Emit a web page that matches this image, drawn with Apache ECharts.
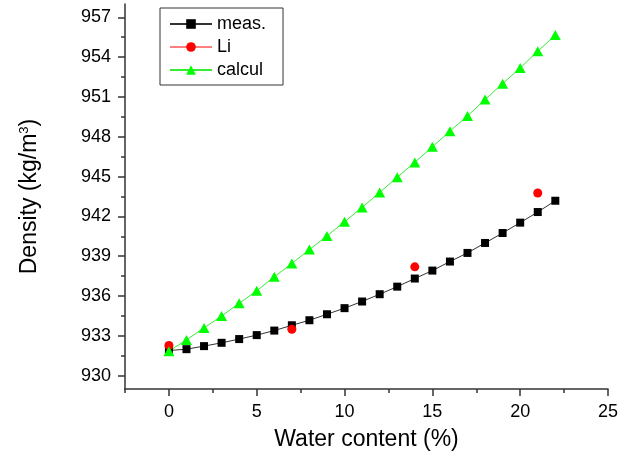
<!DOCTYPE html>
<html>
<head>
<meta charset="utf-8">
<script src="https://cdn.jsdelivr.net/npm/echarts@6/dist/echarts.min.js"></script>
<style>
  html, body { margin: 0; padding: 0; background: #fff; }
  #chart { width: 634px; height: 461px; }
</style>
</head>
<body>
<div id="chart"></div>
<script>
// water content (%)
const waterMeas = [0, 1, 2, 3, 4, 5, 6, 7, 8, 9, 10, 11, 12, 13, 14, 15, 16, 17, 18, 19, 20, 21, 22];
const densityMeas = [931.9, 932.0, 932.23, 932.48, 932.76, 933.06, 933.4, 933.8, 934.18, 934.63, 935.09,
    935.59, 936.14, 936.71, 937.32, 937.92, 938.6, 939.25, 940.0, 940.75, 941.53, 942.33, 943.18];

const waterLi = [0, 7, 14, 21];
const densityLi = [932.28, 933.5, 938.2, 943.76];

const waterCalc = [0, 1, 2, 3, 4, 5, 6, 7, 8, 9, 10, 11, 12, 13, 14, 15, 16, 17, 18, 19, 20, 21, 22];
const densityCalc = [931.85, 932.7, 933.6, 934.5, 935.45, 936.4, 937.45, 938.45, 939.5, 940.53, 941.6,
    942.68, 943.8, 944.95, 946.07, 947.24, 948.42, 949.57, 950.8, 952.0, 953.18, 954.44, 955.66];

const xTicks = [0, 5, 10, 15, 20, 25];
const xMinorTicks = [-2.5, 2.5, 7.5, 12.5, 17.5, 22.5];
const yTicks = [930, 933, 936, 939, 942, 945, 948, 951, 954, 957];
const yMinorTicks = [931.5, 934.5, 937.5, 940.5, 943.5, 946.5, 949.5, 952.5, 955.5];

const FONT = 'Liberation Sans';
const AXIS_COLOR = '#333';

const pairs = (xs, ys) => xs.map((x, i) => [x, ys[i]]);

const chart = echarts.init(document.getElementById('chart'));

const option = {
    animation: false,
    backgroundColor: '#fff',
    textStyle: { fontFamily: FONT },
    grid: { left: 125, right: 26, top: 4, bottom: 72 },
    legend: {
        left: 160,
        top: 8,
        orient: 'vertical',
        borderColor: AXIS_COLOR,
        borderWidth: 1,
        padding: [7, 17, 6, 9],
        itemGap: 5,
        itemWidth: 42,
        itemHeight: 12,
        itemTextGap: 5,
        textStyle: { fontFamily: FONT, fontSize: 18, color: '#000' },
        data: [
            { name: 'meas.' },
            { name: 'Li', lineStyle: { opacity: 1, width: 1, color: '#ff0000' } },
            { name: 'calcul' }
        ]
    },
    xAxis: [{
        type: 'value',
        min: -2.5,
        max: 25,
        name: 'Water content (%)',
        nameLocation: 'middle',
        nameGap: 39,
        nameTextStyle: { fontFamily: FONT, fontSize: 23, color: '#000' },
        axisLine: { onZero: false, lineStyle: { color: AXIS_COLOR, width: 1.5 } },
        axisTick: { customValues: xTicks, length: 7, lineStyle: { color: AXIS_COLOR, width: 1.5 } },
        axisLabel: { customValues: xTicks, margin: 14, fontFamily: FONT, fontSize: 18, color: '#000' },
        splitLine: { show: false }
    }, {
        type: 'value',
        position: 'bottom',
        min: -2.5,
        max: 25,
        axisLine: { show: false, onZero: false },
        axisTick: { customValues: xMinorTicks, length: 4, lineStyle: { color: AXIS_COLOR, width: 1.5 } },
        axisLabel: { show: false },
        splitLine: { show: false }
    }],
    yAxis: [{
        type: 'value',
        min: 929,
        max: 958,
        name: 'Density (kg/m{sup|3})',
        nameLocation: 'middle',
        nameGap: 84,
        nameTextStyle: {
            fontFamily: FONT, fontSize: 23, color: '#000',
            rich: { sup: { fontFamily: FONT, fontSize: 13, color: '#000', verticalAlign: 'top', padding: [0, 0, 10, 0] } }
        },
        axisLine: { show: true, onZero: false, lineStyle: { color: AXIS_COLOR, width: 1.5 } },
        axisTick: { show: true, customValues: yTicks, length: 7, lineStyle: { color: AXIS_COLOR, width: 1.5 } },
        axisLabel: { customValues: yTicks, margin: 14, fontFamily: FONT, fontSize: 18, color: '#000' },
        splitLine: { show: false }
    }, {
        type: 'value',
        position: 'left',
        min: 929,
        max: 958,
        axisLine: { show: false, onZero: false },
        axisTick: { show: true, customValues: yMinorTicks, length: 4, lineStyle: { color: AXIS_COLOR, width: 1.5 } },
        axisLabel: { show: false },
        splitLine: { show: false }
    }],
    series: [{
        name: 'meas.',
        type: 'line',
        data: pairs(waterMeas, densityMeas),
        symbol: 'rect',
        symbolSize: 8,
        itemStyle: { color: '#000' },
        lineStyle: { color: '#333', width: 1 },
        emphasis: { disabled: true }
    }, {
        name: 'Li',
        type: 'line',
        data: pairs(waterLi, densityLi),
        symbol: 'circle',
        symbolSize: 9,
        itemStyle: { color: '#ff0000' },
        lineStyle: { color: '#ff0000', width: 1, opacity: 0 },
        emphasis: { disabled: true }
    }, {
        name: 'calcul',
        type: 'line',
        data: pairs(waterCalc, densityCalc),
        symbol: 'triangle',
        symbolSize: [11, 10],
        itemStyle: { color: '#00ff00' },
        lineStyle: { color: '#33ee33', width: 1 },
        emphasis: { disabled: true }
    }]
};

chart.setOption(option);
</script>
</body>
</html>
